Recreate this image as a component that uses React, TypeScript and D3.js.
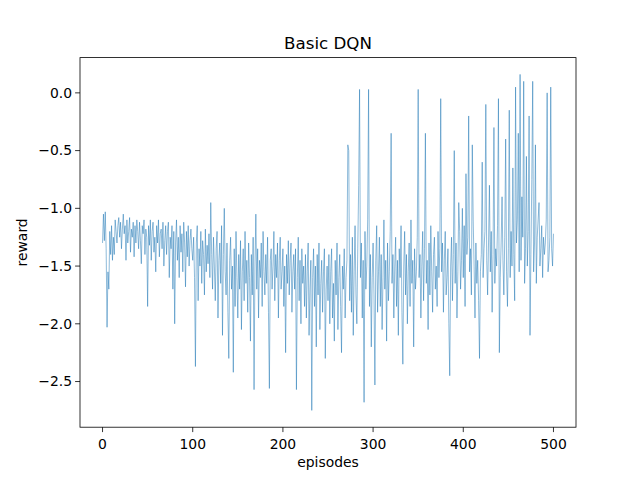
import * as d3 from 'd3'

// rewards per episode (episodes 0..500)
const rewards: number[] = [
  -1.30,-1.05,-1.28,-1.03,-1.35,-2.03,-1.55,-1.70,-1.20,-1.40,-1.15,-1.45,-1.25,-1.40,-1.10,-1.20,-1.30,-1.15,-1.08,-1.25,-1.12,-1.35,-1.18,-1.05,-1.22,
  -1.15,-1.45,-1.10,-1.30,-1.20,-1.08,-1.38,-1.18,-1.25,-1.12,-1.42,-1.15,-1.30,-1.10,-1.20,-1.35,-1.12,-1.28,-1.48,-1.15,-1.22,-1.10,-1.40,-1.18,-1.25,
  -1.85,-1.15,-1.32,-1.10,-1.45,-1.20,-1.12,-1.38,-1.25,-1.55,-1.15,-1.30,-1.10,-1.42,-1.22,-1.18,-1.35,-1.12,-1.50,-1.28,-1.15,-1.40,-1.20,-1.12,-1.60,
  -1.25,-1.35,-1.15,-1.70,-1.20,-2.00,-1.30,-1.10,-1.45,-1.25,-1.60,-1.15,-1.38,-1.22,-1.55,-1.12,-1.30,-1.68,-1.20,-1.42,-1.15,-1.50,-1.28,-1.18,-1.35,
  -1.45,-1.25,-1.60,-2.37,-1.30,-1.15,-1.80,-1.35,-1.50,-1.20,-1.65,-1.28,-1.40,-1.75,-1.18,-1.55,-1.32,-1.48,-1.22,-1.60,-0.95,-1.40,-1.70,-1.25,-1.50,
  -1.80,-1.35,-1.20,-1.95,-1.45,-1.30,-1.65,-1.15,-2.10,-1.40,-1.00,-1.55,-1.75,-1.30,-1.90,-2.30,-1.45,-1.25,-1.70,-1.50,-2.42,-1.35,-1.85,-1.20,-1.60,
  -1.95,-1.40,-1.70,-1.28,-2.05,-1.55,-1.35,-1.80,-1.20,-1.65,-1.45,-1.90,-1.30,-1.60,-2.15,-1.40,-1.75,-1.25,-2.57,-1.50,-1.05,-1.70,-1.35,-1.95,-1.45,
  -1.60,-1.30,-1.85,-1.20,-1.55,-1.75,-1.40,-1.65,-1.25,-1.90,-2.56,-1.45,-1.35,-1.70,-1.50,-1.20,-1.80,-1.40,-1.60,-1.30,-1.95,-1.45,-1.25,-1.70,-1.55,
  -1.35,-1.85,-1.50,-2.25,-1.40,-1.65,-1.28,-1.75,-1.45,-1.30,-1.90,-1.55,-1.40,-1.70,-1.35,-2.57,-1.60,-1.25,-1.80,-1.45,-2.00,-1.35,-1.65,-1.50,-1.85,
  -1.40,-1.95,-1.55,-1.30,-2.10,-1.70,-1.45,-2.75,-1.60,-1.35,-1.85,-1.50,-2.20,-1.40,-1.75,-1.30,-2.05,-1.65,-1.45,-1.90,-1.55,-1.35,-2.30,-1.70,-1.50,
  -1.80,-1.40,-2.00,-1.55,-1.35,-1.95,-1.65,-2.15,-1.45,-1.75,-1.30,-2.05,-1.60,-1.40,-1.85,-2.25,-1.50,-1.70,-1.35,-1.95,-1.60,-1.45,-0.45,-0.50,-1.80,
  -1.40,-1.90,-1.25,-2.10,-1.55,-1.15,-1.75,-2.00,-1.35,-0.80,0.03,-1.60,-1.30,-1.95,-1.45,-2.68,-1.20,-1.70,-1.50,-1.10,0.03,-1.85,-1.40,-2.20,-1.60,
  -1.30,-1.75,-2.53,-1.45,-1.15,-1.90,-1.55,-1.25,-1.85,-1.40,-2.05,-1.60,-1.10,-1.70,-1.45,-2.15,-1.30,-1.80,-1.55,-1.20,-0.35,-1.65,-1.40,-1.95,-1.50,
  -1.25,-1.85,-1.45,-2.10,-1.35,-1.60,-1.15,-1.90,-2.35,-1.50,-1.20,-1.75,-1.40,-2.00,-1.55,-1.30,-1.85,-1.10,-1.65,-1.45,-2.20,-1.35,-1.70,-1.55,-1.25,
  0.03,-1.60,-1.40,-1.95,-1.50,-1.20,-1.80,-1.35,-0.35,-1.65,-1.45,-2.05,-1.30,-1.75,-1.15,-1.55,-1.90,-1.40,-1.25,-1.70,-1.50,-1.85,-1.20,-1.60,-1.35,
  -0.05,-1.55,-1.30,-1.90,-1.45,-1.20,-1.75,-1.60,-1.35,-2.00,-2.45,-1.50,-1.25,-1.80,-1.40,-0.50,-1.65,-1.30,-1.95,-1.55,-0.95,-1.20,-1.70,-1.45,-1.00,
  -1.60,-1.15,-1.85,-0.70,-1.40,-1.25,-0.20,-1.55,-1.35,-1.75,-0.45,-1.10,-1.50,-1.95,-1.30,-1.65,-1.45,-1.80,-2.30,-1.55,-1.40,-0.60,-1.60,-1.35,-1.20,
  -0.10,-1.45,-1.75,-1.30,-0.80,-1.55,-1.20,-1.90,-1.40,-0.30,-1.65,-1.35,-1.50,-1.15,-0.05,-2.25,-1.60,-1.30,-0.90,-1.45,-1.75,-1.25,-0.40,-1.55,-1.85,
  -1.35,-0.15,-1.60,-1.20,-1.50,-0.65,-1.40,-1.80,0.05,-1.30,-1.10,-0.35,-1.55,0.16,-1.45,-0.90,-1.25,0.10,-1.65,-1.35,-0.55,-1.50,-1.20,-0.20,-2.10,
  -1.40,-0.75,0.10,-1.55,-1.30,-0.45,-1.65,-1.25,-1.10,-0.95,-1.50,-1.35,-1.15,-1.60,-1.25,-1.40,-1.30,-1.10,0.00,-1.55,-1.45,-1.25,0.05,-1.35,-1.50,-1.22,
]
const xTickValues = [0, 100, 200, 300, 400, 500]
const yTickValues = [0.0, -0.5, -1.0, -1.5, -2.0, -2.5]

export default function App() {
  const W = 640
  const H = 480
  const m = { left: 80, right: 64, top: 57.6, bottom: 52.8 }
  const iw = W - m.left - m.right
  const ih = H - m.top - m.bottom

  const n = rewards.length - 1
  const x = d3.scaleLinear().domain([-n * 0.05, n * 1.05]).range([0, iw])
  const [lo, hi] = d3.extent(rewards) as [number, number]
  const pad = (hi - lo) * 0.05
  const y = d3.scaleLinear().domain([lo - pad, hi + pad]).range([ih, 0])

  const line = d3
    .line<number>()
    .x((_, i) => x(i))
    .y((d) => y(d))

  return (
    <svg
      width={W}
      height={H}
      style={{ position: 'absolute', left: 0, top: 0, background: '#fff' }}
      fontFamily="DejaVu Sans, sans-serif"
    >
      <g transform={`translate(${m.left},${m.top})`}>
        <path d={line(rewards)!} fill="none" stroke="#1f77b4" strokeWidth={0.5} />
        <rect width={iw} height={ih} fill="none" stroke="#000" strokeWidth={0.8} />
        {xTickValues.map((t) => (
          <g key={t} transform={`translate(${x(t)},${ih})`}>
            <line y2={4.9} stroke="#000" strokeWidth={0.8} />
            <text y={18} textAnchor="middle" fontSize={13.9} dy="0.3em">
              {t}
            </text>
          </g>
        ))}
        {yTickValues.map((t) => (
          <g key={t} transform={`translate(0,${y(t)})`}>
            <line x2={-4.9} stroke="#000" strokeWidth={0.8} />
            <text x={-8} textAnchor="end" fontSize={13.9} dy="0.35em">
              {t.toFixed(1).replace('-', '\u2212')}
            </text>
          </g>
        ))}
        <text x={iw / 2} y={-9} textAnchor="middle" fontSize={16.7}>
          Basic DQN
        </text>
        <text x={iw / 2} y={ih + 40} textAnchor="middle" fontSize={13.9}>
          episodes
        </text>
        <text
          transform={`translate(${-53},${ih / 2}) rotate(-90)`}
          textAnchor="middle"
          fontSize={13.9}
        >
          reward
        </text>
      </g>
    </svg>
  )
}
